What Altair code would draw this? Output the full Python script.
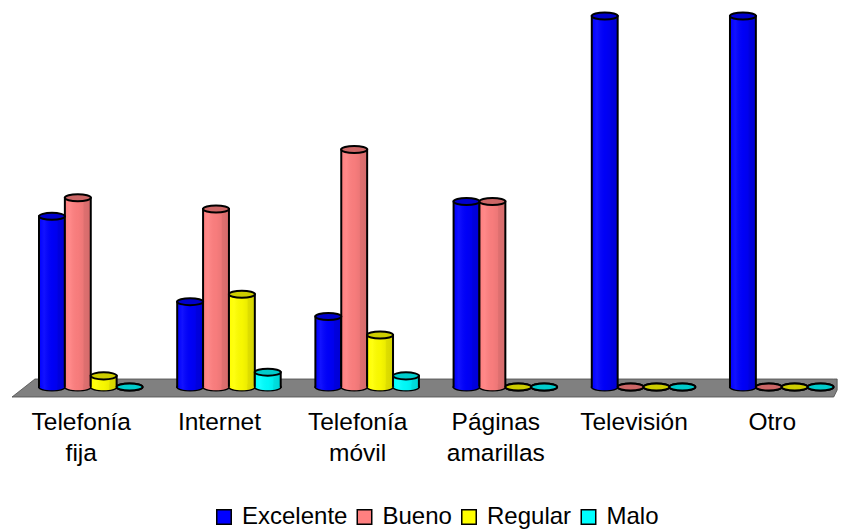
import altair as alt
import pandas as pd

categories = ["Telefonía fija", "Internet", "Telefonía móvil", "Páginas amarillas", "Televisión", "Otro"]
series = ["Excelente", "Bueno", "Regular", "Malo"]
colors = ["#0000FF", "#FF8080", "#FFFF00", "#00FFFF"]
excelente = [46, 23, 19, 50, 100, 100]
bueno = [51, 48, 64, 50, 0, 0]
regular = [3, 25, 14, 0, 0, 0]
malo = [0, 4, 3, 0, 0, 0]
floor_x = [0.029, 0.195, 5.975, 6.0]
floor_top = [-2.7, 2.16, 2.16, 2.16]
floor_bottom = [-2.7, -2.7, -2.7, -0.8]

rows = []
for name, vals in zip(series, [excelente, bueno, regular, malo]):
    for c, v in zip(categories, vals):
        rows.append({"cat": c, "serie": name, "valor": v, "base": 0})
df = pd.DataFrame(rows)
floor = pd.DataFrame({"x": floor_x, "top": floor_top, "bottom": floor_bottom})

ELLIPSE = "M-1,0 A1,0.27 0 1,1 1,0 A1,0.27 0 1,1 -1,0 Z"
BAR_W = 26
yscale = alt.Scale(domain=[-2.425, 102.16], nice=False, zero=False)
shade = alt.Gradient(
    gradient="linear", x1=0, x2=1, y1=0, y2=0,
    stops=[
        alt.GradientStop(offset=0, color="rgba(255,255,255,0)"),
        alt.GradientStop(offset=0.2, color="rgba(255,255,255,0.07)"),
        alt.GradientStop(offset=0.5, color="rgba(0,0,0,0.03)"),
        alt.GradientStop(offset=0.7, color="rgba(0,0,0,0.07)"),
        alt.GradientStop(offset=0.74, color="rgba(0,0,0,0.13)"),
        alt.GradientStop(offset=1, color="rgba(0,0,0,0.17)"),
    ],
)

xscale = alt.Scale(paddingInner=0.251, paddingOuter=0.1285, align=0.873)
X = alt.X("cat:N", sort=categories, title=None, scale=xscale, axis=None)
X_AXIS = alt.X("cat:N", sort=categories, title=None, scale=xscale,
          axis=alt.Axis(orient="bottom", domain=False, ticks=False, labelAngle=0, labelFont="Liberation Sans",
                        labelFontSize=24.5, labelColor="black", labelPadding=14, labelOffset=-9.5,
                        labelLineHeight=31, labelExpr="split(datum.label, ' ')", grid=False))
XO = alt.XOffset("serie:N", sort=series, scale=alt.Scale(paddingInner=0, paddingOuter=0))
Y = alt.Y("valor:Q", scale=yscale, axis=None, title=None)
Y0 = alt.Y("base:Q", scale=yscale, axis=None, title=None)
Y2 = alt.Y2("base:Q")
LEG = alt.Legend(title=None, orient="none", legendX=204, legendY=497, direction="horizontal",
                 symbolType="square", symbolSize=210, symbolStrokeColor="black", symbolStrokeWidth=1.5,
                 symbolOpacity=1, labelFont="Liberation Sans", labelFontSize=24, labelColor="black",
                 labelOffset=6, columnPadding=4.5)
COL = alt.Color("serie:N", sort=series, scale=alt.Scale(domain=series, range=colors), legend=LEG)

base = alt.Chart(df)
floor_layer = alt.Chart(floor).mark_area(color="#808080", stroke="#4d4d4d", strokeWidth=0.8).encode(
    x=alt.X("x:Q", axis=None, title=None, scale=alt.Scale(domain=[0, 6.006], nice=False, zero=False)),
    y=alt.Y("top:Q", scale=yscale, axis=None, title=None),
    y2="bottom:Q",
)
POINT = dict(shape=ELLIPSE, filled=True, opacity=1)
bottom = base.mark_point(size=BAR_W**2, stroke="black", strokeWidth=2, **POINT).encode(
    x=X_AXIS, xOffset=XO, y=Y0, color=COL)
body = base.mark_bar(stroke="black", strokeWidth=2).encode(x=X, xOffset=XO, y=Y, y2=Y2, color=COL)
body_shade = base.mark_bar(fill=shade, strokeWidth=0).encode(x=X, xOffset=XO, y=Y, y2=Y2)
bottom_fill = base.mark_point(size=(BAR_W-1.5)**2, strokeWidth=0, **POINT).encode(
    x=X, xOffset=XO, y=Y0, color=COL)
bottom_shade = base.mark_point(size=(BAR_W-1.5)**2, fill=shade, strokeWidth=0, **POINT).encode(
    x=X, xOffset=XO, y=Y0)
top = base.mark_point(size=BAR_W**2, stroke="black", strokeWidth=2, **POINT).encode(
    x=X, xOffset=XO, y=Y, color=COL)
top_dark = base.mark_point(shape=ELLIPSE, size=BAR_W**2, filled=True, opacity=0.2, color="black", strokeWidth=0).encode(
    x=X, xOffset=XO, y=Y)

chart = alt.layer(floor_layer, bottom, body, body_shade, bottom_fill, bottom_shade, top, top_dark).resolve_scale(
    x="independent").properties(width=830, height=388, padding=0, background="white").configure_view(stroke=None)

chart.save("out.html", embed_options={"renderer": "svg", "actions": False})
